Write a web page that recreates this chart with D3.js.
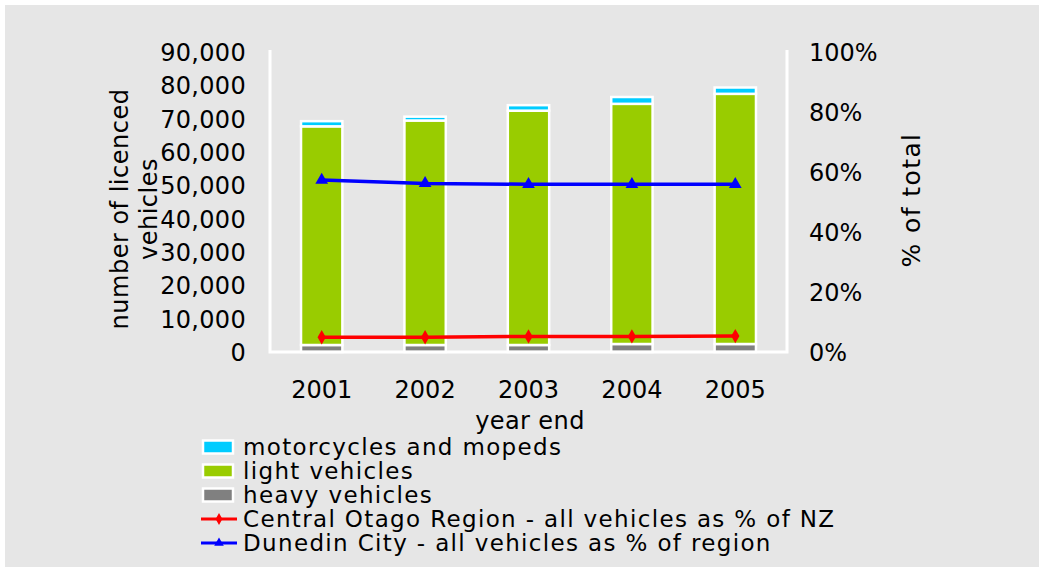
<!DOCTYPE html>
<html>
<head>
<meta charset="utf-8">
<script src="https://cdn.jsdelivr.net/npm/d3@7"></script>
<style>
  html, body { margin: 0; padding: 0; background: #ffffff; }
  svg { display: block; font-family: "DejaVu Sans", Verdana, sans-serif; }
</style>
</head>
<body>
<svg id="chart" width="1039" height="567"></svg>
<script>
const years = ["2001", "2002", "2003", "2004", "2005"];
const heavyVehicles = [2100, 2100, 2100, 2400, 2400];
const lightVehicles = [65600, 67350, 70300, 72050, 75050];
const motorcycles = [1550, 1150, 1650, 2050, 1900];
const centralOtagoPct = [4.9, 4.9, 5.2, 5.2, 5.3];
const dunedinPct = [57.3, 56.2, 55.9, 55.9, 55.9];
const leftTicks = [0, 10000, 20000, 30000, 40000, 50000, 60000, 70000, 80000, 90000];
const rightTicks = [0, 20, 40, 60, 80, 100];

const seriesColors = ["#808080", "#99cc00", "#00ccff"];

const svg = d3.select("#chart");
const W = 1039, H = 567;
const plot = { left: 270, right: 787, top: 52, bottom: 352 };
const FONT = '"DejaVu Sans", Verdana, sans-serif';

svg.append("rect").attr("x", 5).attr("y", 5).attr("width", W - 5).attr("height", H - 5).attr("fill", "#e6e6e6");

const x = d3.scaleBand().domain(years).range([plot.left, plot.right]).paddingInner(0.6).paddingOuter(0.3);
const yL = d3.scaleLinear().domain([0, 90000]).range([plot.bottom, plot.top]);
const yR = d3.scaleLinear().domain([0, 100]).range([plot.bottom, plot.top]);

// stacked bars
const rows = years.map((yr, i) => ({ year: yr, heavy: heavyVehicles[i], light: lightVehicles[i], moto: motorcycles[i] }));
const stacked = d3.stack().keys(["heavy", "light", "moto"])(rows);

const gBars = svg.append("g");
stacked.forEach((layer, li) => {
  gBars.selectAll(null).data(layer).enter().append("rect")
    .attr("x", d => x(d.data.year))
    .attr("width", x.bandwidth())
    .attr("y", d => yL(d[1]))
    .attr("height", d => yL(d[0]) - yL(d[1]))
    .attr("fill", seriesColors[li])
    .attr("stroke", "#ffffff")
    .attr("stroke-width", 2.5);
});

// axis lines (white)
svg.append("path")
  .attr("d", `M${plot.left},${plot.top - 2}V${plot.bottom}H${plot.right}V${plot.top - 2}`)
  .attr("fill", "none").attr("stroke", "#ffffff").attr("stroke-width", 3);

// left axis labels
const gl = svg.append("g").attr("transform", `translate(246,0)`)
  .call(d3.axisLeft(yL).tickValues(leftTicks).tickSize(0).tickPadding(0).tickFormat(d3.format(",")));
gl.select(".domain").remove();
gl.selectAll("text").attr("font-size", 24).attr("fill", "#000").attr("dy", "0.36em")
  .attr("letter-spacing", 0.3).style("font-family", FONT);

// right axis labels
const gr = svg.append("g").attr("transform", `translate(809,0)`)
  .call(d3.axisRight(yR).tickValues(rightTicks).tickSize(0).tickPadding(0).tickFormat(d => d + "%"));
gr.select(".domain").remove();
gr.selectAll("text").attr("font-size", 24).attr("fill", "#000").attr("dy", "0.36em")
  .style("font-family", FONT);

// bottom axis labels
const gb = svg.append("g").attr("transform", `translate(0,381)`)
  .call(d3.axisBottom(x).tickSize(0).tickPadding(0));
gb.select(".domain").remove();
gb.selectAll("text").attr("font-size", 24).attr("fill", "#000").attr("dy", "0.71em")
  .style("font-family", FONT);

// axis titles
svg.append("text").attr("x", 530).attr("y", 429).attr("text-anchor", "middle")
  .attr("font-size", 24).attr("letter-spacing", 0.4).text("year end");
const lt = svg.append("text").attr("transform", "translate(128,209) rotate(-90)")
  .attr("text-anchor", "middle").attr("font-size", 24).attr("letter-spacing", 0.5);
lt.append("tspan").attr("x", 0).attr("y", 0).text("number of licenced");
lt.append("tspan").attr("x", 0).attr("y", 29).text("vehicles");
svg.append("text").attr("transform", "translate(920,200) rotate(-90)")
  .attr("text-anchor", "middle").attr("font-size", 25).attr("letter-spacing", 1.4).text("% of total");

// lines
const cx = d => x(d) + x.bandwidth() / 2;
const lineGen = d3.line().x(d => cx(d.year)).y(d => yR(d.v));
const redData = years.map((yr, i) => ({ year: yr, v: centralOtagoPct[i] }));
const blueData = years.map((yr, i) => ({ year: yr, v: dunedinPct[i] }));

svg.append("path").datum(redData).attr("d", lineGen).attr("fill", "none")
  .attr("stroke", "#ff0000").attr("stroke-width", 3.5);
svg.selectAll(null).data(redData).enter().append("path")
  .attr("transform", d => `translate(${cx(d.year)},${yR(d.v)})`)
  .attr("d", d3.symbol(d3.symbolDiamond, 60)).attr("fill", "#ff0000");

svg.append("path").datum(blueData).attr("d", lineGen).attr("fill", "none")
  .attr("stroke", "#0000ff").attr("stroke-width", 3.5);
svg.selectAll(null).data(blueData).enter().append("path")
  .attr("transform", d => `translate(${cx(d.year)},${yR(d.v)})`)
  .attr("d", d3.symbol(d3.symbolTriangle, 70)).attr("fill", "#0000ff");

// legend
const legendItems = [
  { name: "motorcycles and mopeds", type: "rect", color: "#00ccff" },
  { name: "light vehicles", type: "rect", color: "#99cc00" },
  { name: "heavy vehicles", type: "rect", color: "#808080" },
  { name: "Central Otago Region - all vehicles as % of NZ", type: "line", color: "#ff0000", sym: d3.symbolDiamond },
  { name: "Dunedin City - all vehicles as % of region", type: "line", color: "#0000ff", sym: d3.symbolTriangle }
];
const lg = svg.append("g");
legendItems.forEach((it, i) => {
  const cy = 447 + i * 24;
  if (it.type === "rect") {
    lg.append("rect").attr("x", 203).attr("y", cy - 6.5).attr("width", 30).attr("height", 13)
      .attr("fill", it.color).attr("stroke", "#ffffff").attr("stroke-width", 2.5);
  } else {
    lg.append("line").attr("x1", 201).attr("x2", 237).attr("y1", cy).attr("y2", cy)
      .attr("stroke", it.color).attr("stroke-width", 3);
    lg.append("path").attr("transform", `translate(219,${cy})`)
      .attr("d", d3.symbol(it.sym, 40)).attr("fill", it.color);
  }
  lg.append("text").attr("x", 243).attr("y", cy).attr("dy", "0.36em")
    .attr("font-size", 23).attr("letter-spacing", 1.35).text(it.name);
});
</script>
</body>
</html>
